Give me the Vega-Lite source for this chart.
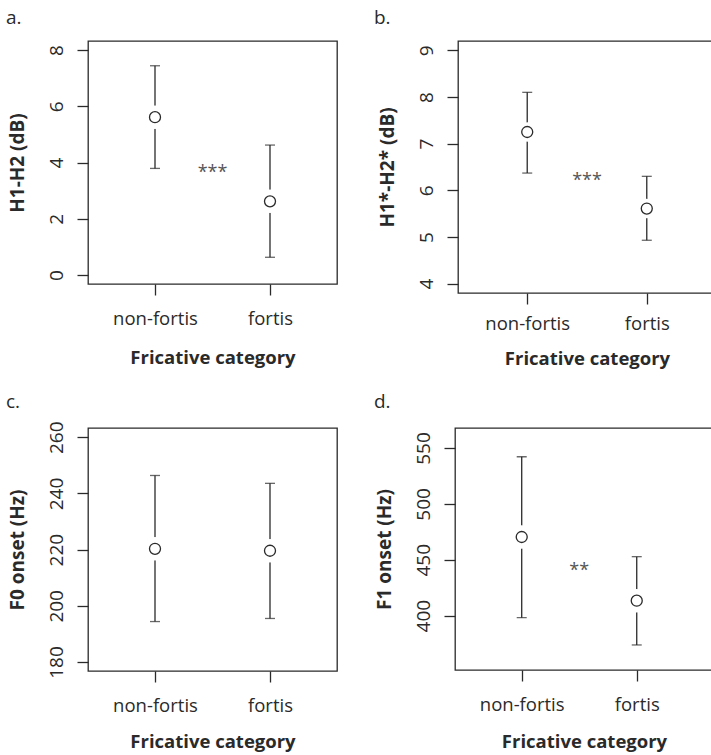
{
  "$schema": "https://vega.github.io/schema/vega-lite/v6.json",
  "padding": {"left": 5, "top": 8, "right": 0, "bottom": 0},
  "autosize": {"type": "pad"},
  "background": "white",
  "datasets": {
    "a": [
      {"cat": "non-fortis", "idx": 1, "mean": 5.61, "lo": 3.79, "hi": 7.44},
      {"cat": "fortis", "idx": 2, "mean": 2.62, "lo": 0.63, "hi": 4.62}
    ],
    "b": [
      {"cat": "non-fortis", "idx": 1, "mean": 7.25, "lo": 6.37, "hi": 8.10},
      {"cat": "fortis", "idx": 2, "mean": 5.61, "lo": 4.93, "hi": 6.30}
    ],
    "c": [
      {"cat": "non-fortis", "idx": 1, "mean": 220.3, "lo": 194.4, "hi": 246.4},
      {"cat": "fortis", "idx": 2, "mean": 219.6, "lo": 195.5, "hi": 243.6}
    ],
    "d": [
      {"cat": "non-fortis", "idx": 1, "mean": 470.4, "lo": 398.2, "hi": 542.2},
      {"cat": "fortis", "idx": 2, "mean": 413.4, "lo": 373.8, "hi": 452.8}
    ],
    "sa": [{"idx": 1.5, "y": 3.77, "sig": "***"}],
    "sb": [{"idx": 1.5, "y": 6.29, "sig": "***"}],
    "sd": [{"idx": 1.5, "y": 443.6, "sig": "**"}]
  },
  "config": {
    "font": "Open Sans",
    "view": {"stroke": "#2a2a2a", "strokeWidth": 1.3},
    "axis": {
      "domain": false, "grid": false,
      "tickColor": "#2a2a2a", "tickSize": 11, "tickWidth": 1.3,
      "labelFont": "Open Sans", "labelColor": "#2a2a2a",
      "titleFont": "Open Sans", "titleFontWeight": "bold", "titleColor": "#2a2a2a",
      "labelOverlap": false, "labelFlush": false
    },
    "axisY": {"labelAngle": -90, "labelAlign": "center", "labelBaseline": "bottom", "labelPadding": 11, "titlePadding": 20, "labelFontSize": 19, "titleFontSize": 19},
    "axisX": {"labelPadding": 14, "titlePadding": 21, "labelFontSize": 18.5, "titleFontSize": 18.5},
    "title": {"anchor": "start", "frame": "group", "fontSize": 19, "fontWeight": "normal", "color": "#2a2a2a", "font": "Open Sans", "offset": 13}
  },
  "spacing": 23,
  "vconcat": [
    {
      "spacing": 35,
      "hconcat": [
        {
          "width": 249, "height": 243,
          "title": {"text": "a.", "dx": -82},
          "encoding": {
            "x": {"field": "idx", "type": "quantitative", "scale": {"domain": [0.4174, 2.5826], "nice": false, "zero": false},
                  "axis": {"values": [1, 2], "labelExpr": "datum.value == 1 ? 'non-fortis' : 'fortis'", "title": "Fricative category"}}
          },
          "layer": [
            {"data": {"name": "a"}, "mark": {"type": "rule", "color": "#2a2a2a", "strokeWidth": 1.3},
             "encoding": {"y": {"field": "lo", "type": "quantitative", "title": "H1-H2 (dB)", "scale": {"domain": [-0.32, 8.32], "nice": false, "zero": false}, "axis": {"values": [0, 2, 4, 6, 8]}}, "y2": {"field": "hi"}}},
            {"data": {"name": "a"}, "mark": {"type": "tick", "orient": "horizontal", "color": "#2a2a2a", "size": 10, "thickness": 1.3},
             "encoding": {"y": {"field": "lo", "type": "quantitative", "title": "H1-H2 (dB)"}}},
            {"data": {"name": "a"}, "mark": {"type": "tick", "orient": "horizontal", "color": "#2a2a2a", "size": 10, "thickness": 1.3},
             "encoding": {"y": {"field": "hi", "type": "quantitative", "title": "H1-H2 (dB)"}}},
            {"data": {"name": "a"}, "mark": {"type": "point", "shape": "circle", "filled": true, "color": "white", "opacity": 1, "size": 550},
             "encoding": {"y": {"field": "mean", "type": "quantitative", "title": "H1-H2 (dB)"}}},
            {"data": {"name": "a"}, "mark": {"type": "point", "shape": "circle", "filled": false, "fill": "white", "fillOpacity": 1, "stroke": "#2a2a2a", "strokeWidth": 1.3, "opacity": 1, "size": 121},
             "encoding": {"y": {"field": "mean", "type": "quantitative", "title": "H1-H2 (dB)"}}},
            {"data": {"name": "sa"}, "mark": {"type": "text", "fontSize": 18, "color": "#555555", "baseline": "middle", "dy": 4},
             "encoding": {"y": {"field": "y", "type": "quantitative", "title": "H1-H2 (dB)"}, "text": {"field": "sig"}}}
          ]
        },
        {
          "width": 258, "height": 252,
          "title": {"text": "b.", "dx": -84},
          "encoding": {
            "x": {"field": "idx", "type": "quantitative", "scale": {"domain": [0.421, 2.579], "nice": false, "zero": false},
                  "axis": {"values": [1, 2], "labelExpr": "datum.value == 1 ? 'non-fortis' : 'fortis'", "title": "Fricative category", "labelPadding": 10, "titlePadding": 17}}
          },
          "layer": [
            {"data": {"name": "b"}, "mark": {"type": "rule", "color": "#2a2a2a", "strokeWidth": 1.3},
             "encoding": {"y": {"field": "lo", "type": "quantitative", "title": "H1*-H2* (dB)", "scale": {"domain": [3.8, 9.2], "nice": false, "zero": false}, "axis": {"values": [4, 5, 6, 7, 8, 9]}}, "y2": {"field": "hi"}}},
            {"data": {"name": "b"}, "mark": {"type": "tick", "orient": "horizontal", "color": "#2a2a2a", "size": 10, "thickness": 1.3},
             "encoding": {"y": {"field": "lo", "type": "quantitative", "title": "H1*-H2* (dB)"}}},
            {"data": {"name": "b"}, "mark": {"type": "tick", "orient": "horizontal", "color": "#2a2a2a", "size": 10, "thickness": 1.3},
             "encoding": {"y": {"field": "hi", "type": "quantitative", "title": "H1*-H2* (dB)"}}},
            {"data": {"name": "b"}, "mark": {"type": "point", "shape": "circle", "filled": true, "color": "white", "opacity": 1, "size": 380},
             "encoding": {"y": {"field": "mean", "type": "quantitative", "title": "H1*-H2* (dB)"}}},
            {"data": {"name": "b"}, "mark": {"type": "point", "shape": "circle", "filled": false, "fill": "white", "fillOpacity": 1, "stroke": "#2a2a2a", "strokeWidth": 1.3, "opacity": 1, "size": 121},
             "encoding": {"y": {"field": "mean", "type": "quantitative", "title": "H1*-H2* (dB)"}}},
            {"data": {"name": "sb"}, "mark": {"type": "text", "fontSize": 18, "color": "#555555", "baseline": "middle", "dy": 4},
             "encoding": {"y": {"field": "y", "type": "quantitative", "title": "H1*-H2* (dB)"}, "text": {"field": "sig"}}}
          ]
        }
      ]
    },
    {
      "spacing": 35,
      "hconcat": [
        {
          "width": 249, "height": 243,
          "title": {"text": "c.", "dx": -82, "offset": 9},
          "encoding": {
            "x": {"field": "idx", "type": "quantitative", "scale": {"domain": [0.4174, 2.5826], "nice": false, "zero": false},
                  "axis": {"values": [1, 2], "labelExpr": "datum.value == 1 ? 'non-fortis' : 'fortis'", "title": "Fricative category", "labelPadding": 14, "titlePadding": 18}}
          },
          "layer": [
            {"data": {"name": "c"}, "mark": {"type": "rule", "color": "#2a2a2a", "strokeWidth": 1.3},
             "encoding": {"y": {"field": "lo", "type": "quantitative", "title": "F0 onset (Hz)", "scale": {"domain": [176.8, 263.3], "nice": false, "zero": false}, "axis": {"values": [180, 200, 220, 240, 260]}}, "y2": {"field": "hi"}}},
            {"data": {"name": "c"}, "mark": {"type": "tick", "orient": "horizontal", "color": "#2a2a2a", "size": 10, "thickness": 1.3},
             "encoding": {"y": {"field": "lo", "type": "quantitative", "title": "F0 onset (Hz)"}}},
            {"data": {"name": "c"}, "mark": {"type": "tick", "orient": "horizontal", "color": "#2a2a2a", "size": 10, "thickness": 1.3},
             "encoding": {"y": {"field": "hi", "type": "quantitative", "title": "F0 onset (Hz)"}}},
            {"data": {"name": "c"}, "mark": {"type": "point", "shape": "circle", "filled": true, "color": "white", "opacity": 1, "size": 550},
             "encoding": {"y": {"field": "mean", "type": "quantitative", "title": "F0 onset (Hz)"}}},
            {"data": {"name": "c"}, "mark": {"type": "point", "shape": "circle", "filled": false, "fill": "white", "fillOpacity": 1, "stroke": "#2a2a2a", "strokeWidth": 1.3, "opacity": 1, "size": 121},
             "encoding": {"y": {"field": "mean", "type": "quantitative", "title": "F0 onset (Hz)"}}}
          ]
        },
        {
          "width": 258, "height": 242,
          "title": {"text": "d.", "dx": -81, "offset": 16},
          "encoding": {
            "x": {"field": "idx", "type": "quantitative", "scale": {"domain": [0.42, 2.663], "nice": false, "zero": false},
                  "axis": {"values": [1, 2], "labelExpr": "datum.value == 1 ? 'non-fortis' : 'fortis'", "title": "Fricative category", "labelPadding": 14, "titlePadding": 19}}
          },
          "layer": [
            {"data": {"name": "d"}, "mark": {"type": "rule", "color": "#2a2a2a", "strokeWidth": 1.3},
             "encoding": {"y": {"field": "lo", "type": "quantitative", "title": "F1 onset (Hz)", "scale": {"domain": [351.4, 567.9], "nice": false, "zero": false}, "axis": {"values": [400, 450, 500, 550]}}, "y2": {"field": "hi"}}},
            {"data": {"name": "d"}, "mark": {"type": "tick", "orient": "horizontal", "color": "#2a2a2a", "size": 10, "thickness": 1.3},
             "encoding": {"y": {"field": "lo", "type": "quantitative", "title": "F1 onset (Hz)"}}},
            {"data": {"name": "d"}, "mark": {"type": "tick", "orient": "horizontal", "color": "#2a2a2a", "size": 10, "thickness": 1.3},
             "encoding": {"y": {"field": "hi", "type": "quantitative", "title": "F1 onset (Hz)"}}},
            {"data": {"name": "d"}, "mark": {"type": "point", "shape": "circle", "filled": true, "color": "white", "opacity": 1, "size": 550},
             "encoding": {"y": {"field": "mean", "type": "quantitative", "title": "F1 onset (Hz)"}}},
            {"data": {"name": "d"}, "mark": {"type": "point", "shape": "circle", "filled": false, "fill": "white", "fillOpacity": 1, "stroke": "#2a2a2a", "strokeWidth": 1.3, "opacity": 1, "size": 121},
             "encoding": {"y": {"field": "mean", "type": "quantitative", "title": "F1 onset (Hz)"}}},
            {"data": {"name": "sd"}, "mark": {"type": "text", "fontSize": 18, "color": "#555555", "baseline": "middle", "dy": 4},
             "encoding": {"y": {"field": "y", "type": "quantitative", "title": "F1 onset (Hz)"}, "text": {"field": "sig"}}}
          ]
        }
      ]
    }
  ]
}
